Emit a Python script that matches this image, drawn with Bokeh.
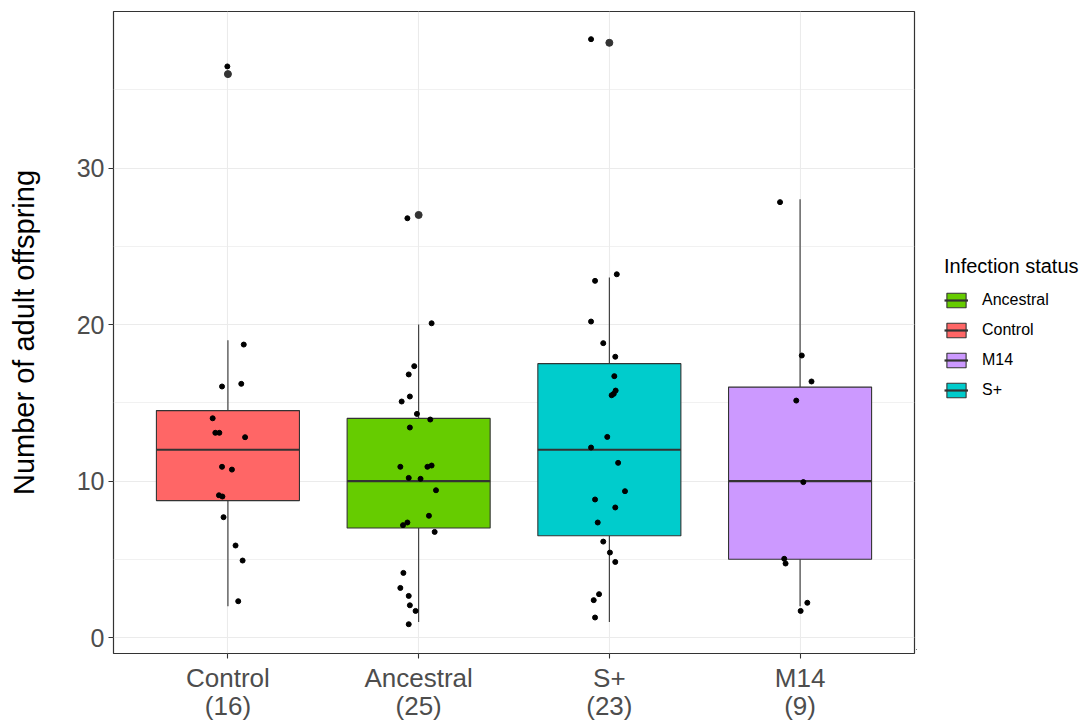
from bokeh.plotting import figure
from bokeh.layouts import row
from bokeh.models import Range1d, FixedTicker, ColumnDataSource, Legend, LegendItem
from bokeh.embed import file_html
from bokeh.resources import INLINE

# ---- data ----
groups = ["Control", "Ancestral", "S+", "M14"]
group_n = [16, 25, 23, 9]
fill_colors = ["#FF6666", "#66CC00", "#00CCCC", "#CC99FF"]
q1 = [8.75, 7.0, 6.5, 5.0]
median = [12.0, 10.0, 12.0, 10.0]
q3 = [14.5, 14.0, 17.5, 16.0]
whisker_low = [2.0, 1.0, 1.0, 2.0]
whisker_high = [19.0, 20.0, 23.0, 28.0]
outlier_group = ["Control", "Ancestral", "S+"]
outlier_value = [36.0, 27.0, 38.0]

control_y = [36.49, 18.72, 16.21, 16.04, 14.01, 13.08, 13.08, 12.80, 10.91, 10.73, 9.09, 9.01, 7.69, 5.88, 4.92, 2.32]
control_jit = [-0.003, 0.083, 0.070, -0.031, -0.080, -0.066, -0.045, 0.090, -0.031, 0.021, -0.047, -0.029, -0.023, 0.040, 0.077, 0.054]
ancestral_y = [26.79, 20.08, 17.34, 16.81, 15.40, 15.08, 14.29, 13.93, 13.42, 10.91, 10.91, 10.99, 10.20, 10.14, 9.41, 7.78, 7.35, 7.18, 6.75, 4.13, 3.17, 2.66, 2.06, 1.70, 0.85]
ancestral_jit = [-0.059, 0.068, -0.023, -0.052, -0.046, -0.089, -0.009, 0.061, -0.046, -0.096, 0.046, 0.068, -0.052, 0.010, 0.091, 0.054, -0.059, -0.082, 0.084, -0.080, -0.096, -0.052, -0.046, -0.016, -0.052]
splus_y = [38.23, 22.79, 23.21, 20.19, 18.81, 17.94, 16.70, 15.78, 15.57, 15.48, 12.82, 12.14, 11.16, 9.35, 8.82, 8.31, 7.35, 6.13, 5.43, 4.83, 2.77, 2.39, 1.28]
splus_jit = [-0.096, -0.075, 0.039, -0.096, -0.032, 0.031, 0.026, 0.033, 0.023, 0.012, -0.011, -0.096, 0.046, 0.082, -0.075, 0.031, -0.061, -0.032, 0.003, 0.031, -0.054, -0.082, -0.075]
m14_y = [27.82, 18.02, 16.36, 15.14, 9.93, 5.03, 4.73, 2.22, 1.70]
m14_jit = [-0.105, 0.009, 0.060, -0.020, 0.017, -0.083, -0.076, 0.038, 0.003]

legend_order = ["Ancestral", "Control", "M14", "S+"]
y_ticks = [0, 10, 20, 30]
y_minor = [5, 15, 25, 35]

FONT = "Liberation Sans"
BOX_W = 0.75

p = figure(frame_width=801, frame_height=642, output_backend="svg", toolbar_location=None,
           x_range=Range1d(0.4, 4.6), y_range=Range1d(-1.02, 40.0),
           min_border_left=113, min_border_right=2, min_border_top=11, min_border_bottom=67,
           background_fill_color="white", border_fill_color="white")
p.outline_line_color = "#333333"
p.outline_line_width = 1.2

xpos = list(range(1, len(groups) + 1))

# grid
p.xaxis.ticker = FixedTicker(ticks=xpos)
p.xgrid.ticker = FixedTicker(ticks=xpos)
p.yaxis.ticker = FixedTicker(ticks=y_ticks, minor_ticks=y_minor)
p.ygrid.ticker = FixedTicker(ticks=y_ticks, minor_ticks=y_minor)
for g in (p.xgrid, p.ygrid):
    g.grid_line_color = "#EBEBEB"
    g.grid_line_width = 1.1
p.ygrid.minor_grid_line_color = "#EBEBEB"
p.ygrid.minor_grid_line_width = 0.7

# axes
p.xaxis.major_label_overrides = {x: f"{g}\n({n})" for x, g, n in zip(xpos, groups, group_n)}
for ax in (p.xaxis, p.yaxis):
    ax.axis_line_color = None
    ax.major_tick_line_color = "#333333"
    ax.major_tick_line_width = 1.1
    ax.major_tick_out = 5
    ax.major_tick_in = 0
    ax.minor_tick_line_color = None
    ax.major_label_text_font = FONT
    ax.major_label_text_color = "#4D4D4D"
p.xaxis.major_label_text_font_size = "26px"
p.xaxis.major_label_text_line_height = 0.95
p.yaxis.major_label_text_font_size = "25px"
p.xaxis.major_label_standoff = 4
p.yaxis.major_label_standoff = 4
p.yaxis.axis_label = "Number of adult offspring"
p.yaxis.axis_label_text_font = FONT
p.yaxis.axis_label_text_font_size = "29px"
p.yaxis.axis_label_text_font_style = "normal"
p.yaxis.axis_label_text_color = "black"
p.yaxis.axis_label_standoff = 34

# whiskers
p.segment(x0=xpos, x1=xpos, y0=q3, y1=whisker_high, line_color="#333333", line_width=1.1)
p.segment(x0=xpos, x1=xpos, y0=q1, y1=whisker_low, line_color="#333333", line_width=1.1)

# boxes
box_src = ColumnDataSource(dict(
    x=xpos, bottom=q1, top=q3, med=median, fill=fill_colors,
    x0=[x - BOX_W / 2 for x in xpos], x1=[x + BOX_W / 2 for x in xpos]))
box_kw = dict(x="x", bottom="bottom", top="top", width=BOX_W, fill_color="fill",
              line_color="#333333", line_width=1.1, source=box_src)
med_kw = dict(x0="x0", x1="x1", y0="med", y1="med", line_color="#333333",
              line_width=2.2, source=box_src)
p.vbar(**box_kw)
p.segment(**med_kw)

# outliers
p.scatter(x=[groups.index(g) + 1 for g in outlier_group], y=outlier_value,
          size=7, color="#333333")

# jittered points
all_y = [control_y, ancestral_y, splus_y, m14_y]
all_j = [control_jit, ancestral_jit, splus_jit, m14_jit]
px, py = [], []
for i, (ys, js) in enumerate(zip(all_y, all_j)):
    px += [i + 1 + j for j in js]
    py += ys
p.scatter(x=px, y=py, size=5, color="black")

# legend panel: a bare figure whose glyphs share the box data but lie outside its view
lg = figure(width=169, height=720, output_backend="svg", toolbar_location=None,
            x_range=Range1d(100, 101), y_range=Range1d(100, 101),
            min_border=0, outline_line_color=None,
            background_fill_color="white", border_fill_color="white")
lg.axis.visible = False
lg.grid.visible = False
lbox = lg.vbar(**box_kw)
lmed = lg.segment(**med_kw)
items = [LegendItem(label=name, renderers=[lbox, lmed], index=groups.index(name))
         for name in legend_order]
legend = Legend(items=items, title="Infection status", location=(28, 250),
                title_text_font=FONT, title_text_font_size="20px",
                title_text_font_style="normal", title_text_color="black",
                title_standoff=13,
                label_text_font=FONT, label_text_font_size="16px", label_text_color="black",
                glyph_width=24, glyph_height=18, label_standoff=14, spacing=12,
                padding=4, margin=0, border_line_color=None, background_fill_alpha=0)
lg.add_layout(legend)

layout = row(p, lg, spacing=0)
open("out.html", "w").write(file_html(layout, INLINE))
